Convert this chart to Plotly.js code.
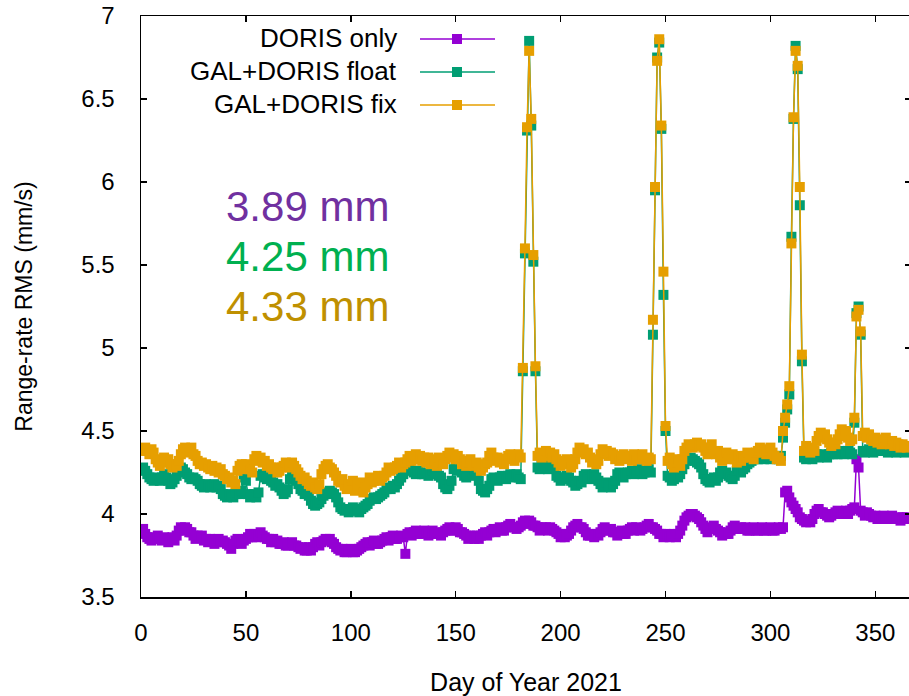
<!DOCTYPE html>
<html>
<head>
<meta charset="utf-8">
<script src="https://cdn.plot.ly/plotly-3.0.1.min.js"></script>
<style>
html,body{margin:0;padding:0;background:#fff;overflow:hidden;}
#chart{width:911px;height:696px;}
</style>
</head>
<body>
<div id="chart"></div>
<script>
// ---- data ----
const seriesNames = ["DORIS only", "GAL+DORIS float", "GAL+DORIS fix"];
const statLabels = ["3.89 mm", "4.25 mm", "4.33 mm"];

const dorisOnly = [
3.91,
3.88,3.86,3.85,3.84,3.86,3.85,
3.87,3.85,3.84,3.86,
3.85,3.83,3.85,3.86,3.84,3.87,
3.90,3.92,3.90,3.92,3.91,3.89,3.89,
3.87,3.85,3.87,3.86,3.87,3.84,
3.85,3.83,3.85,3.84,3.82,3.84,3.85,3.83,3.84,3.83,3.82,
3.81,3.79,3.82,
3.84,3.85,3.83,3.82,3.84,3.85,3.86,
3.88,3.86,3.88,3.86,3.87,3.89,3.87,3.86,3.85,
3.85,3.83,3.85,3.83,3.84,3.82,3.82,
3.83,3.81,3.81,3.82,3.83,3.81,3.81,3.80,
3.79,3.80,3.78,3.78,3.80,3.78,3.80,
3.82,3.83,3.81,3.83,3.84,3.85,
3.84,3.85,3.83,3.82,3.80,3.79,
3.78,3.79,3.77,3.77,3.78,3.79,3.77,3.77,3.78,3.79,3.80,
3.81,3.82,3.83,3.81,3.83,3.84,3.82,3.82,3.83,3.84,3.85,
3.86,3.84,3.86,3.87,3.85,3.85,3.86,3.87,3.86,
3.76,
3.88,3.89,3.87,3.89,3.90,3.88,3.88,3.89,3.90,
3.89,3.87,3.89,3.90,3.88,3.88,3.89,3.87,3.89,3.90,
3.91,3.92,3.90,3.90,3.92,3.91,3.89,3.89,3.88,
3.87,3.85,3.87,3.86,3.85,3.87,3.85,3.87,
3.88,3.89,3.87,3.89,3.90,
3.91,3.89,3.91,3.92,3.90,3.90,
3.92,3.93,3.94,3.92,3.92,3.91,3.92,3.93,
3.95,3.96,3.94,3.96,3.95,3.93,3.93,
3.92,3.90,3.92,3.91,3.92,3.90,3.92,3.91,3.90,3.89,
3.88,3.86,3.88,3.86,3.87,3.88,3.90,
3.92,3.93,3.94,3.92,3.92,3.91,
3.89,3.87,3.87,3.88,3.86,3.88,3.87,3.89,
3.91,3.92,3.90,3.90,3.91,3.89,
3.89,3.87,3.89,3.90,3.88,3.88,
3.90,3.91,3.92,3.90,3.92,3.91,3.90,3.91,3.92,
3.93,3.94,3.92,3.92,3.91,
3.90,3.88,3.88,3.86,3.88,3.87,3.86,3.87,3.88,3.86,3.88,3.90,
3.93,3.96,3.98,3.99,4.00,4.00,3.99,3.98,3.97,3.95,3.93,
3.91,3.89,3.91,3.92,3.93,3.91,3.90,
3.89,3.87,3.89,3.88,3.88,3.90,
3.92,3.93,3.91,3.91,3.92,
3.91,3.92,3.90,3.90,3.91,3.92,3.90,3.90,3.91,3.92,3.90,3.90,3.91,3.92,3.90,3.90,3.91,3.92,3.91,
3.92,4.13,4.14,4.10,4.07,4.05,4.03,4.01,
3.98,3.97,3.96,3.95,3.96,3.95,3.97,
4.00,4.02,4.03,4.01,4.01,4.00,3.99,
3.98,3.99,4.00,4.01,
4.02,4.00,4.00,4.01,4.02,4.00,4.02,4.03,4.04,
4.33,4.28,
4.02,4.01,3.99,4.01,4.00,3.99,
3.98,3.99,3.97,3.97,3.98,3.99,3.97,3.97,3.98,
3.99,3.97,3.97,3.98,3.96,3.98,3.97,3.98
];

const galDorisFloat = [
4.28,4.26,
4.24,4.22,4.21,4.20,4.22,4.21,4.20,4.22,4.24,
4.22,4.20,4.18,4.19,4.21,4.23,
4.26,4.28,4.27,4.25,
4.24,4.22,4.21,4.22,4.21,4.20,
4.18,4.17,4.16,4.18,4.17,4.16,4.17,4.18,4.16,4.17,4.15,
4.12,4.11,4.10,4.12,4.11,4.10,4.12,4.13,4.12,4.14,
4.22,4.20,
4.12,4.10,4.11,4.12,4.10,4.13,
4.23,4.24,4.22,4.21,4.22,
4.20,4.19,4.17,4.18,4.16,
4.14,4.12,4.13,4.15,
4.21,4.23,4.22,4.20,4.18,
4.15,4.14,4.12,4.13,4.11,
4.08,4.06,4.05,4.06,4.07,4.09,
4.11,4.12,4.13,4.14,4.13,4.12,4.10,4.07,
4.04,4.03,4.02,4.03,4.01,4.02,4.04,4.03,4.02,4.01,4.03,4.04,4.05,4.06,
4.08,4.09,4.10,4.09,4.10,4.11,4.12,4.13,
4.15,4.16,4.15,4.17,4.16,4.18,4.20,4.22,4.24,
4.28,4.29,4.28,4.26,
4.25,4.24,4.26,4.25,4.24,
4.24,4.25,4.23,4.24,4.26,4.25,4.24,4.23,4.22,
4.18,4.16,4.15,4.17,4.20,
4.27,4.28,4.26,4.27,4.25,
4.23,4.22,4.24,4.23,4.25,
4.26,4.24,4.20,
4.15,4.14,4.13,4.15,4.17,
4.21,4.22,4.21,4.20,4.22,4.23,4.22,4.21,4.23,4.24,4.22,4.23,4.24,4.22,4.21,
4.86,5.57,6.31,6.85,6.34,5.52,4.86,
4.28,4.27,4.29,4.30,4.28,4.27,4.29,4.30,4.28,
4.23,4.22,4.20,4.22,4.21,4.23,4.22,4.20,
4.19,4.17,4.18,4.20,4.19,
4.23,4.24,4.22,4.21,4.23,4.24,4.22,4.20,
4.18,4.16,4.17,4.19,4.17,4.16,4.18,4.20,
4.24,4.25,4.23,4.22,4.24,4.25,
4.25,4.26,4.24,4.25,4.27,4.26,4.24,4.25,4.26,4.27,4.25,
5.08,5.95,6.75,6.84,6.32,5.32,4.50,
4.23,4.22,4.20,4.21,4.23,4.22,4.24,
4.27,4.30,4.32,4.33,4.34,4.33,4.32,4.31,4.30,4.28,
4.24,4.21,4.20,4.19,4.21,4.22,4.20,4.22,
4.25,4.26,4.24,4.25,4.23,
4.22,4.21,4.23,
4.26,4.27,4.25,4.27,4.28,
4.30,4.31,4.32,
4.33,4.34,4.33,4.35,4.34,4.33,4.34,4.35,4.33,4.34,4.35,4.34,4.33,4.35,
4.46,4.55,4.63,4.72,5.67,6.38,6.82,6.68,5.86,4.92,
4.34,4.33,4.35,4.34,4.33,4.35,4.36,4.34,4.35,4.36,4.35,4.34,
4.36,4.37,4.36,4.37,4.36,4.38,4.37,4.36,4.37,4.38,4.37,4.36,
4.55,5.21,5.25,5.08,
4.38,4.37,4.38,4.39,4.38,4.37,4.38,
4.38,4.39,4.38,4.39,4.38,4.37,4.38,4.39,4.38,4.37,4.38,4.39,4.38,4.37,4.38
];

const galDorisFix = [
4.38,
4.40,4.38,4.36,4.39,4.37,
4.33,4.31,4.29,4.32,
4.34,4.31,4.33,4.30,
4.28,4.30,4.29,4.32,
4.36,4.39,4.40,4.37,4.38,4.40,4.36,4.35,
4.32,4.30,4.31,4.29,
4.30,4.28,4.27,4.29,4.26,
4.28,4.25,4.27,4.24,4.23,
4.21,4.22,4.19,4.20,4.18,
4.26,4.29,4.30,4.27,4.30,4.28,
4.27,4.25,
4.33,4.35,4.32,4.34,4.31,
4.32,4.29,4.30,4.28,
4.27,4.28,4.25,4.26,4.28,
4.29,4.31,4.30,4.28,4.31,4.29,4.27,4.25,
4.23,4.21,4.22,4.20,4.18,
4.17,4.19,4.16,4.15,4.18,
4.24,4.27,4.29,
4.30,4.28,
4.27,4.25,4.23,4.20,
4.19,4.21,4.17,4.15,4.18,
4.16,4.20,4.14,4.17,
4.15,4.19,4.13,4.16,4.18,
4.22,4.19,4.20,
4.21,4.23,4.20,4.22,4.23,
4.25,4.28,4.26,4.27,4.28,
4.29,4.31,4.28,4.30,4.31,
4.33,4.35,4.32,4.34,
4.36,4.33,4.35,4.32,4.34,
4.31,4.34,4.30,4.33,4.32,4.29,4.34,4.31,4.30,4.33,
4.35,4.37,4.34,4.36,4.33,4.35,
4.33,4.30,4.32,4.29,4.31,4.33,4.30,
4.29,4.31,4.28,4.26,4.28,4.30,4.31,
4.35,4.37,4.34,
4.32,4.34,4.31,4.33,4.30,
4.33,4.35,4.36,4.34,4.32,4.35,4.36,4.34,
4.88,5.60,6.33,6.79,6.38,5.56,4.89,
4.35,4.37,4.34,4.36,
4.38,4.35,4.37,4.34,4.36,
4.33,4.31,4.29,4.32,4.30,4.33,4.31,4.28,4.30,4.33,
4.37,4.40,4.38,4.39,4.36,4.37,
4.34,4.31,4.33,4.30,4.32,
4.36,4.39,4.37,4.38,4.35,4.37,
4.36,4.33,4.35,4.32,4.34,4.36,4.33,4.35,4.34,4.32,4.36,4.33,4.35,4.34,4.36,4.33,4.32,4.34,4.33,
5.17,5.97,6.73,6.86,6.34,5.46,4.53,
4.32,4.34,4.30,4.28,4.31,4.33,4.29,4.33,
4.38,4.40,4.42,4.41,4.40,4.42,
4.43,4.41,4.42,4.40,4.38,4.36,
4.40,4.42,4.37,
4.36,4.38,4.34,4.32,4.35,4.37,4.33,
4.34,4.36,4.33,4.31,4.35,4.32,4.34,
4.35,4.37,4.34,4.36,4.33,4.37,
4.38,4.40,4.37,4.39,4.36,4.38,4.40,4.37,
4.35,4.33,4.34,4.32,
4.50,4.58,4.66,4.77,5.63,6.39,6.79,6.70,5.97,4.96,
4.38,4.41,4.39,4.37,4.40,4.38,
4.44,4.47,4.49,4.46,4.48,4.45,4.43,
4.41,4.43,4.42,
4.45,4.48,4.51,4.47,4.50,4.46,4.44,4.45,
4.58,5.19,5.23,5.10,
4.47,4.49,4.46,4.48,4.45,
4.44,4.46,4.43,4.45,4.42,4.44,4.46,4.43,
4.42,4.44,4.41,4.43,4.42,
4.40,4.42,4.41,4.40
];

const firstDay = 1;
const xTickVals = [0, 50, 100, 150, 200, 250, 300, 350];
const yTickVals = [3.5, 4, 4.5, 5, 5.5, 6, 6.5, 7];

// ---- styling ----
const colors = ["#9400d3", "#009e73", "#e69f00"];
const statColors = ["#7030a0", "#00b050", "#bf9000"];
const FONT = "Liberation Sans, Arial, Helvetica, sans-serif";

function daysFor(arr){ const d=[]; for(let i=0;i<arr.length;i++) d.push(firstDay+i); return d; }

const allSeries = [dorisOnly, galDorisFloat, galDorisFix];
const traces = allSeries.map((vals, i) => ({
  x: daysFor(vals), y: vals, type: "scatter", mode: "lines+markers",
  name: seriesNames[i], showlegend: false,
  line: {color: colors[i], width: 1.5},
  marker: {symbol: "square", size: 10, color: colors[i], line: {width: 0}}
}));

// plot area geometry (px) for legend/label placement
const W = 911, H = 696, ML = 141, MR = 0, MT = 16, MB = 99;
const PW = W - ML - MR, PH = H - MT - MB;
const px = v => (v - ML) / PW;
const py = v => (H - MB - v) / PH;

const annotations = [];
const shapes = [];
const legendRows = [38, 71, 104];
seriesNames.forEach((n, i) => {
  annotations.push({xref:"paper", yref:"paper", x: px(399), y: py(legendRows[i]),
    xanchor:"right", yanchor:"middle", text:n, showarrow:false,
    font:{family:FONT, size:26, color:"#000"}});
  shapes.push({type:"line", xref:"paper", yref:"paper", x0:px(420), x1:px(495),
    y0:py(legendRows[i]+1), y1:py(legendRows[i]+1), line:{color:colors[i], width:1.5}});
  shapes.push({type:"rect", xref:"paper", yref:"paper", xsizemode:"pixel", ysizemode:"pixel",
    xanchor:px(457), yanchor:py(legendRows[i]+1), x0:-5, x1:5, y0:-5, y1:5,
    fillcolor:colors[i], line:{width:0}});
});
const statRows = [206, 256, 306];
statLabels.forEach((t, i) => {
  annotations.push({xref:"paper", yref:"paper", x: px(224), y: py(statRows[i]),
    xanchor:"left", yanchor:"middle", text:t, showarrow:false,
    font:{family:FONT, size:42, color:statColors[i]}});
});

const axisCommon = {
  showline:true, linecolor:"#000", linewidth:1.5, mirror:"ticks",
  ticks:"inside", ticklen:6, tickwidth:1.5, tickcolor:"#000",
  showgrid:false, zeroline:false, tickfont:{family:FONT, size:24, color:"#000"}
};

const layout = {
  width: W, height: H,
  margin: {l:ML, r:MR, t:MT, b:MB, pad:0},
  paper_bgcolor:"#fff", plot_bgcolor:"#fff",
  showlegend:false,
  xaxis: Object.assign({}, axisCommon, {
    range:[0, 367], tickvals:xTickVals, ticklabelstandoff:14,
    title:{text:"Day of Year 2021", font:{family:FONT, size:25, color:"#000"}, standoff:28}
  }),
  yaxis: Object.assign({}, axisCommon, {
    range:[3.5, 7], tickvals:yTickVals, ticklabelstandoff:20,
    title:{text:"Range-rate RMS (mm/s)", font:{family:FONT, size:23, color:"#000"}, standoff:42}
  }),
  annotations: annotations,
  shapes: shapes
};

Plotly.newPlot("chart", traces, layout, {staticPlot:true, displayModeBar:false});
</script>
</body>
</html>
